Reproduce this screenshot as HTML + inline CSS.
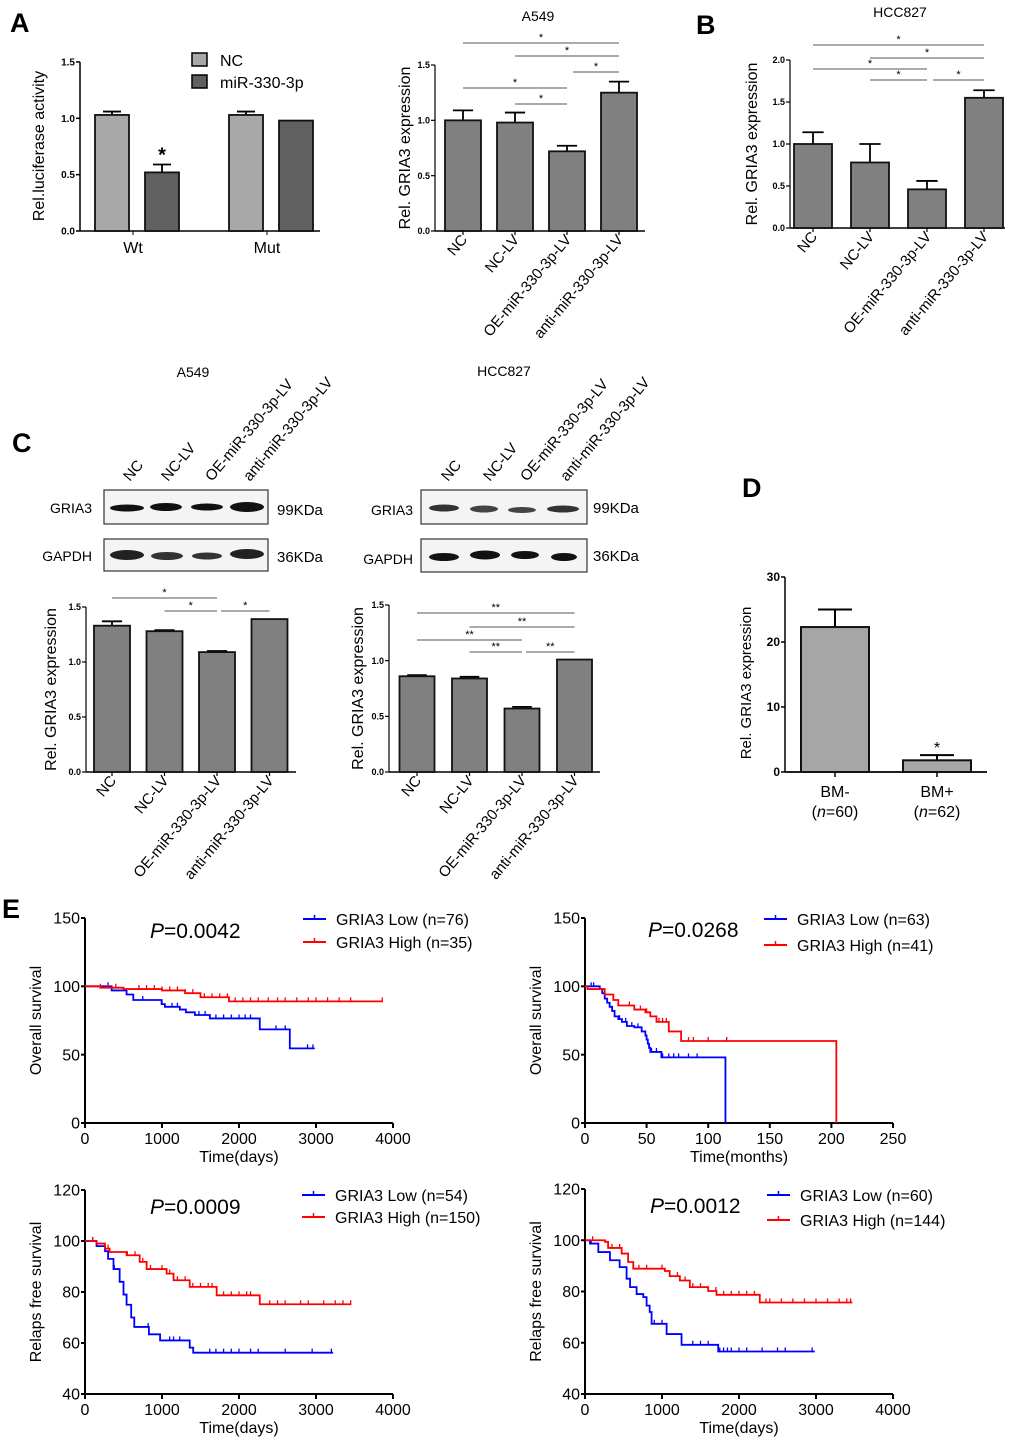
<!DOCTYPE html>
<html><head><meta charset="utf-8"><style>
html,body{margin:0;padding:0;background:#fff}
svg{display:block;font-family:"Liberation Sans",Arial,sans-serif}
</style></head><body>
<svg id="fig" width="1020" height="1444" viewBox="0 0 1020 1444" xmlns="http://www.w3.org/2000/svg">
<g font-weight="bold" font-size="27">
<text x="10" y="32">A</text>
<text x="696" y="34">B</text>
<text x="12" y="452">C</text>
<text x="742" y="497">D</text>
<text x="2" y="918">E</text>
</g>
<g font-size="16">
<rect x="192" y="53" width="15" height="13" fill="#a8a8a8" stroke="#000" stroke-width="1.5"/>
<text x="220" y="66">NC</text>
<rect x="192" y="75" width="15" height="13" fill="#606060" stroke="#000" stroke-width="1.5"/>
<text x="220" y="88">miR-330-3p</text>
</g>
<g font-size="14" text-anchor="middle">
<text x="538" y="21">A549</text>
<text x="900" y="17">HCC827</text>
<text x="193" y="377">A549</text>
<text x="504" y="376">HCC827</text>
</g>
<g>
<rect x="104" y="490" width="164" height="34" fill="#f4f4f4" stroke="#333" stroke-width="1.2"/>
<rect x="104" y="539" width="164" height="32" fill="#f4f4f4" stroke="#333" stroke-width="1.2"/>
<g fill="#111">
<ellipse cx="127" cy="508" rx="17" ry="3.5"/><ellipse cx="166" cy="507" rx="16" ry="4"/><ellipse cx="207" cy="507" rx="16" ry="3.5"/><ellipse cx="247" cy="507" rx="17" ry="5"/>
<ellipse cx="127" cy="555" rx="17" ry="5" fill="#222"/><ellipse cx="167" cy="556" rx="16" ry="4" fill="#333"/><ellipse cx="207" cy="556" rx="15" ry="3.5" fill="#333"/><ellipse cx="247" cy="554" rx="17" ry="5" fill="#222"/>
</g>
<text x="92" y="513" font-size="14" text-anchor="end">GRIA3</text>
<text x="92" y="561" font-size="14" text-anchor="end">GAPDH</text>
<text x="277" y="515" font-size="15">99KDa</text>
<text x="277" y="562" font-size="15">36KDa</text>
<g font-size="15">
<text transform="translate(130,482) rotate(-50)">NC</text>
<text transform="translate(168,482) rotate(-50)">NC-LV</text>
<text transform="translate(212,482) rotate(-50)">OE-miR-330-3p-LV</text>
<text transform="translate(250,482) rotate(-50)">anti-miR-330-3p-LV</text>
</g>
</g>
<g>
<rect x="421" y="490" width="166" height="34" fill="#f4f4f4" stroke="#333" stroke-width="1.2"/>
<rect x="421" y="539" width="166" height="33" fill="#f4f4f4" stroke="#333" stroke-width="1.2"/>
<g fill="#222">
<ellipse cx="444" cy="508" rx="15" ry="3.5" fill="#333"/><ellipse cx="484" cy="509" rx="14" ry="3.5" fill="#444"/><ellipse cx="522" cy="510" rx="14" ry="3" fill="#444"/><ellipse cx="563" cy="509" rx="16" ry="3.5" fill="#333"/>
<ellipse cx="444" cy="557" rx="15" ry="4" fill="#111"/><ellipse cx="485" cy="555" rx="15" ry="4.5" fill="#111"/><ellipse cx="525" cy="555" rx="14" ry="4" fill="#111"/><ellipse cx="564" cy="557" rx="13" ry="4" fill="#111"/>
</g>
<text x="413" y="515" font-size="14" text-anchor="end">GRIA3</text>
<text x="413" y="564" font-size="14" text-anchor="end">GAPDH</text>
<text x="593" y="513" font-size="15">99KDa</text>
<text x="593" y="561" font-size="15">36KDa</text>
<g font-size="15">
<text transform="translate(448,482) rotate(-50)">NC</text>
<text transform="translate(490,482) rotate(-50)">NC-LV</text>
<text transform="translate(527,482) rotate(-50)">OE-miR-330-3p-LV</text>
<text transform="translate(567,482) rotate(-50)">anti-miR-330-3p-LV</text>
</g>
</g>
<g id="charts"></g>
</svg>
<script>
// ---------- Data ----------
const catsLV = ["NC","NC-LV","OE-miR-330-3p-LV","anti-miR-330-3p-LV"];
const aGroups = ["Wt","Mut"];
const aNC = [1.03, 1.03];
const aNCerr = [0.03, 0.03];
const aMiR = [0.52, 0.98];
const aMiRerr = [0.07, 0.005];
const aTicks = [0, 0.5, 1.0, 1.5];

const a549Vals = [1.0, 0.98, 0.72, 1.25];
const a549Err = [0.09, 0.09, 0.05, 0.1];
const a549Ticks = [0, 0.5, 1.0, 1.5];

const hccVals = [1.0, 0.78, 0.46, 1.55];
const hccErr = [0.14, 0.22, 0.1, 0.09];
const hccTicks = [0, 0.5, 1.0, 1.5, 2.0];

const cA549Vals = [1.33, 1.28, 1.09, 1.39];
const cA549Err = [0.04, 0.01, 0.01, 0.0];
const cHccVals = [0.86, 0.84, 0.57, 1.01];
const cHccErr = [0.01, 0.015, 0.015, 0.0];
const cTicks = [0, 0.5, 1.0, 1.5];

const dCats = ["BM-","BM+"];
const dN = ["60","62"];
const dVals = [22.3, 1.8];
const dErr = [2.7, 0.8];
const dTicks = [0, 10, 20, 30];

const e1Low = [[0,100],[346,97],[540,94],[627,90],[995,87],[1038,85],[1232,83],[1310,81],[1427,79],[1622,76.5],[2270,68.5],[2660,54.6]];
const e1LowEnd = 2984;
const e1High = [[0,100],[200,99],[500,98],[1000,97],[1300,95],[1500,92],[1870,89]];
const e1HighEnd = 3870;
const e1LowCens = [300,750,1000,1130,1200,1480,1560,1700,1800,1900,2000,2080,2150,2480,2600,2890,2960];
const e1HighCens = [200,300,400,700,800,900,1000,1100,1200,1300,1400,1550,1650,1750,1850,1950,2050,2150,2250,2380,2500,2600,2750,2900,3000,3150,3300,3450,3860];
const e1Ticks = [0,50,100,150];
const e1XTicks = [0,1000,2000,3000,4000];

const e2Low = [[0,100],[12,98],[14,95],[16,91],[18,88],[20,85],[22,82],[24,78],[27,76],[30,74],[34,71],[40,70],[46,67],[49,64],[50,61],[51,58],[52,55],[53,52],[62,48],[114,0]];
const e2LowEnd = 114;
const e2High = [[0,100],[2,98],[16,94],[23,90],[27,86],[40,83],[49,81],[53,78],[58,74],[68,67],[78,60],[204,0]];
const e2HighEnd = 204;
const e2LowCens = [5,7,28,33,38,43,54,58,63,68,72,76,84,91];
const e2HighCens = [36,40,45,50,60,63,66,84,88,100,115];
const e2XTicks = [0,50,100,150,200,250];

const e3Low = [[0,100],[150,98],[260,96],[300,93],[370,89],[450,84],[500,79],[540,75],[600,70],[640,66.3],[830,63.4],[975,61],[1360,58.2],[1405,56.2]];
const e3LowEnd = 3222;
const e3High = [[0,100],[150,99],[260,97],[320,95.7],[540,94.4],[710,91.8],[800,89],[1060,87.2],[1150,84.6],[1360,82],[1710,78.7],[2270,75.2]];
const e3HighEnd = 3459;
const e3LowCens = [100,380,820,1100,1150,1230,1620,1700,1800,1900,2000,2150,2250,2600,2950,3200];
const e3HighCens = [100,300,550,650,750,850,1000,1100,1200,1300,1400,1500,1600,1650,1800,1900,2000,2100,2150,2400,2500,2600,2800,2900,3100,3250,3350,3450];
const e3Ticks = [40,60,80,100,120];

const e4Low = [[0,100],[65,98.7],[173,95.4],[324,92.2],[450,89.5],[540,85],[585,81.7],[670,79],[757,77.8],[800,74.5],[840,72],[865,67.4],[1060,63.4],[1254,59.2],[1730,56.6]];
const e4LowEnd = 2984;
const e4High = [[0,100],[260,99.4],[300,97],[476,94.8],[560,91.5],[627,88.9],[1038,88],[1100,86],[1232,84.3],[1362,81.7],[1600,80.2],[1708,78.7],[2270,75.7]];
const e4HighEnd = 3472;
const e4LowCens = [80,900,1000,1400,1500,1600,1750,1800,1850,1900,2000,2100,2300,2500,2600,2950];
const e4HighCens = [100,350,450,700,800,1000,1100,1200,1300,1400,1500,1600,1700,1800,1900,2000,2100,2200,2350,2400,2550,2700,2850,3000,3150,3300,3400,3450];
const e4XTicks = [0,1000,2000,3000,4000];

// ---------- Helpers ----------
const NS = "http://www.w3.org/2000/svg";
const root = document.getElementById("charts");
function mk(tag, attrs, parent, name) {
  const el = document.createElementNS(NS, tag);
  for (const k in attrs) el.setAttribute(k, attrs[k]);
  
  
  (parent || root).appendChild(el);
  return el;
}
function txt(s, attrs, parent, name) { const t = mk("text", attrs, parent, name); t.textContent = s; return t; }

function axisY(g, x0, y0, y1, vmax, vmin, ticks, fs, fmt, w, fw) {
  const sy = v => y0 - (v - vmin) / (vmax - vmin) * (y0 - y1);
  mk("line", {x1:x0, y1:sy(vmin), x2:x0, y2:sy(vmax), stroke:"#000", "stroke-width":w||1.5}, g, "y-axis-line");
  ticks.forEach(t => {
    mk("line", {x1:x0-4, y1:sy(t), x2:x0, y2:sy(t), stroke:"#000", "stroke-width":w||1.5}, g, "y-tick");
    txt(fmt(t), {x:x0-5, y:sy(t)+fs*0.35, "font-size":fs, "text-anchor":"end", "font-weight":fw||"normal"}, g, "y-tick-label");
  });
  return sy;
}

function barChart(opt) {
  const g = mk("g", {}, root, opt.name);
  const sy = axisY(g, opt.x0, opt.y0, opt.y1, opt.max, 0, opt.ticks, opt.tfs, opt.fmt, 1.2, "bold");
  mk("line", {x1:opt.x0, y1:opt.y0, x2:opt.xEnd, y2:opt.y0, stroke:"#000", "stroke-width":1.5}, g, "x-axis-line");
  opt.vals.forEach((v, i) => {
    const cx = opt.x0 + opt.first + i * opt.step;
    const e = opt.err[i];
    if (e > 0.0001) {
      mk("line", {x1:cx, y1:sy(v), x2:cx, y2:sy(v+e), stroke:"#000", "stroke-width":1.8}, g, "error-bar");
      mk("line", {x1:cx-opt.bw*0.28, y1:sy(v+e), x2:cx+opt.bw*0.28, y2:sy(v+e), stroke:"#000", "stroke-width":1.8}, g, "error-cap");
    }
    mk("rect", {x:cx-opt.bw/2, y:sy(v), width:opt.bw, height:opt.y0-sy(v), fill:opt.color, stroke:"#111", "stroke-width":1.8}, g, "bar-" + opt.cats[i].toLowerCase());
    mk("line", {x1:cx, y1:opt.y0, x2:cx, y2:opt.y0+4, stroke:"#000", "stroke-width":1.2}, g, "x-tick");
    txt(opt.cats[i], {transform:`translate(${cx+5},${opt.y0+9}) rotate(-50)`, "font-size":opt.lfs, "text-anchor":"end"}, g, "x-tick-label");
  });
  txt("Rel. GRIA3 expression", {transform:`translate(${opt.ylx},${(opt.y0+opt.y1)/2}) rotate(-90)`, "font-size":opt.yfs, "text-anchor":"middle"}, g, "y-axis-title");
  (opt.sig||[]).forEach(s => {
    const xa = opt.x0 + opt.first + s[0]*opt.step - (s[3]||0), xb = opt.x0 + opt.first + s[1]*opt.step + (s[4]||0);
    mk("line", {x1:xa, y1:s[2], x2:xb, y2:s[2], stroke:"#777", "stroke-width":1.2}, g, "significance-line");
    txt(opt.star, {x:(xa+xb)/2, y:s[2]-2, "font-size":11, "text-anchor":"middle"}, g, "significance-star");
  });
  return g;
}
const f1 = t => t.toFixed(1);

(function(){
  const g = mk("g", {}, root, "chart-a-luciferase");
  const x0 = 80, y0 = 231, y1 = 62;
  const sy = axisY(g, x0, y0, y1, 1.5, 0, aTicks, 10, f1, 1.5, "bold");
  mk("line", {x1:x0, y1:y0, x2:320, y2:y0, stroke:"#000", "stroke-width":1.5}, g, "x-axis-line");
  const centers = [137, 271];
  aGroups.forEach((grp, i) => {
    const c = centers[i];
    [[aNC[i], aNCerr[i], c-25, "#a8a8a8"], [aMiR[i], aMiRerr[i], c+25, "#606060"]].forEach(([v,e,cx,col]) => {
      if (e > 0.01) {
        mk("line", {x1:cx, y1:sy(v), x2:cx, y2:sy(v+e), stroke:"#000", "stroke-width":1.8}, g, "error-bar");
        mk("line", {x1:cx-9, y1:sy(v+e), x2:cx+9, y2:sy(v+e), stroke:"#000", "stroke-width":1.8}, g, "error-cap");
      }
      mk("rect", {x:cx-17, y:sy(v), width:34, height:y0-sy(v), fill:col, stroke:"#111", "stroke-width":1.8}, g, "bar-" + grp.toLowerCase());
    });
    mk("line", {x1:c-4, y1:y0, x2:c-4, y2:y0+4, stroke:"#000"}, g, "x-tick");
    txt(grp, {x:c-4, y:253, "font-size":16, "text-anchor":"middle"}, g, "x-tick-label");
  });
  txt("*", {x:162, y:sy(aMiR[0]+aMiRerr[0])-3, "font-size":20, "font-weight":"bold", "text-anchor":"middle"}, g, "significance-star");
  txt("Rel.luciferase activity", {transform:`translate(44,146) rotate(-90)`, "font-size":16, "text-anchor":"middle"}, g, "y-axis-title");
})();

barChart({name:"chart-a549-qpcr", x0:435, y0:231, y1:65, max:1.5, ticks:a549Ticks, tfs:9, fmt:f1, xEnd:645,
  vals:a549Vals, err:a549Err, cats:catsLV, first:28, step:52, bw:36, color:"#808080", lfs:15, ylx:410, yfs:16, star:"*",
  sig:[[0,3,43],[1,3,56],[2,3,72,-6,0],[0,2,88],[1,2,104]]});
barChart({name:"chart-hcc827-qpcr", x0:790, y0:228, y1:60, max:2.0, ticks:hccTicks, tfs:9, fmt:f1, xEnd:1005,
  vals:hccVals, err:hccErr, cats:catsLV, first:23, step:57, bw:38, color:"#808080", lfs:15, ylx:757, yfs:16, star:"*",
  sig:[[0,3,45],[1,3,58],[0,2,69],[1,2,80],[2,3,80,-6,0]]});
barChart({name:"chart-c-a549", x0:86, y0:772, y1:607, max:1.5, ticks:cTicks, tfs:9, fmt:f1, xEnd:296,
  vals:cA549Vals, err:cA549Err, cats:catsLV, first:26, step:52.5, bw:36, color:"#808080", lfs:15, ylx:56, yfs:16, star:"*",
  sig:[[0,2,598],[1,2,611],[2,3,611,-4,0]]});
barChart({name:"chart-c-hcc827", x0:389, y0:772, y1:605, max:1.5, ticks:cTicks, tfs:9, fmt:f1, xEnd:600,
  vals:cHccVals, err:cHccErr, cats:catsLV, first:28, step:52.5, bw:35, color:"#808080", lfs:15, ylx:363, yfs:16, star:"**",
  sig:[[0,3,613],[1,3,627],[0,2,640],[1,2,652],[2,3,652,-4,0]]});

(function(){
  const g = mk("g", {}, root, "chart-d-bm");
  const x0 = 785, y0 = 772, y1 = 577;
  const sy = axisY(g, x0, y0, y1, 30, 0, dTicks, 12, t => String(t), 1.5, "bold");
  mk("line", {x1:x0, y1:y0, x2:987, y2:y0, stroke:"#000", "stroke-width":1.8}, g, "x-axis-line");
  dVals.forEach((v, i) => {
    const cx = 835 + i*102;
    const e = dErr[i];
    mk("line", {x1:cx, y1:sy(v), x2:cx, y2:sy(v+e), stroke:"#000", "stroke-width":2}, g, "error-bar");
    mk("line", {x1:cx-17, y1:sy(v+e), x2:cx+17, y2:sy(v+e), stroke:"#000", "stroke-width":2}, g, "error-cap");
    mk("rect", {x:cx-34, y:sy(v), width:68, height:y0-sy(v), fill:"#a6a6a6", stroke:"#111", "stroke-width":2}, g, "bar-" + dCats[i]);
    mk("line", {x1:cx, y1:y0, x2:cx, y2:y0+5, stroke:"#000", "stroke-width":1.5}, g, "x-tick");
    txt(dCats[i], {x:cx, y:797, "font-size":16, "text-anchor":"middle"}, g, "x-tick-label");
    const t = txt("(", {x:cx, y:817, "font-size":16, "text-anchor":"middle"}, g, "x-tick-n");
    const ts = document.createElementNS(NS,"tspan"); ts.setAttribute("font-style","italic"); ts.textContent="n"; t.appendChild(ts);
    t.appendChild(document.createTextNode("=" + dN[i] + ")"));
  });
  txt("*", {x:937, y:sy(dVals[1]+dErr[1])-2, "font-size":16, "text-anchor":"middle"}, g, "significance-star");
  txt("Rel. GRIA3 expression", {transform:`translate(751,683) rotate(-90)`, "font-size":15, "text-anchor":"middle"}, g, "y-axis-title");
})();

function km(opt) {
  const g = mk("g", {}, root, opt.name);
  const sx = t => opt.x0 + t / opt.xmax * (opt.x1 - opt.x0);
  const sy = axisY(g, opt.x0, opt.y0, opt.y1, opt.ymax, opt.ymin, opt.yticks, 16, t => String(t), 2);
  mk("line", {x1:opt.x0, y1:opt.y0, x2:opt.x1, y2:opt.y0, stroke:"#000", "stroke-width":2}, g, "x-axis-line");
  opt.xticks.forEach(t => {
    mk("line", {x1:sx(t), y1:opt.y0, x2:sx(t), y2:opt.y0+5, stroke:"#000", "stroke-width":2}, g, "x-tick");
    txt(String(t), {x:sx(t), y:opt.y0+21, "font-size":16, "text-anchor":"middle"}, g, "x-tick-label");
  });
  txt(opt.xlabel, {x:(opt.x0+opt.x1)/2, y:opt.y0+39, "font-size":16, "text-anchor":"middle"}, g, "x-axis-title");
  txt(opt.ylabel, {transform:`translate(${opt.x0-44},${(opt.y0+opt.y1)/2}) rotate(-90)`, "font-size":16, "text-anchor":"middle"}, g, "y-axis-title");
  const ptxt = txt("", {x:opt.px, y:opt.py, "font-size":21}, g, "p-value");
  const it = document.createElementNS(NS,"tspan"); it.setAttribute("font-style","italic"); it.textContent="P"; ptxt.appendChild(it);
  ptxt.appendChild(document.createTextNode("=" + opt.p));
  [[opt.low, opt.lowEnd, opt.lowC, "#0000ff", "GRIA3 Low (n=" + opt.nLow + ")", 0],
   [opt.high, opt.highEnd, opt.highC, "#ff0000", "GRIA3 High (n=" + opt.nHigh + ")", 1]].forEach(([pts, end, cens, col, lab, k]) => {
    let d = "M" + sx(pts[0][0]) + "," + sy(pts[0][1]);
    for (let i = 1; i < pts.length; i++) d += " H" + sx(pts[i][0]) + " V" + sy(pts[i][1]);
    d += " H" + sx(end);
    mk("path", {d, fill:"none", stroke:col, "stroke-width":1.8}, g, k ? "survival-curve-high" : "survival-curve-low");
    const valAt = t => { let v = pts[0][1]; pts.forEach(p => { if (p[0] <= t) v = p[1]; }); return v; };
    cens.forEach(t => {
      if (t > end) return;
      mk("line", {x1:sx(t), y1:sy(valAt(t)), x2:sx(t), y2:sy(valAt(t))-4, stroke:col, "stroke-width":1.3}, g, "censor-tick");
    });
    const ly = opt.ly + k * opt.ldy;
    mk("line", {x1:opt.lx, y1:ly, x2:opt.lx+23, y2:ly, stroke:col, "stroke-width":2}, g, "legend-line");
    mk("line", {x1:opt.lx+11.5, y1:ly, x2:opt.lx+11.5, y2:ly-4, stroke:col, "stroke-width":1.5}, g, "legend-tick");
    txt(lab, {x:opt.lx+33, y:ly+6, "font-size":16}, g, "legend-label");
  });
}
km({name:"km-overall-days", x0:85, x1:393, y0:1123, y1:918, ymin:0, ymax:150, yticks:e1Ticks, xmax:4000, xticks:e1XTicks,
  xlabel:"Time(days)", ylabel:"Overall survival", p:"0.0042", px:150, py:938,
  low:e1Low, lowEnd:e1LowEnd, lowC:e1LowCens, high:e1High, highEnd:e1HighEnd, highC:e1HighCens, nLow:76, nHigh:35, lx:303, ly:919, ldy:23});
km({name:"km-overall-months", x0:585, x1:893, y0:1123, y1:918, ymin:0, ymax:150, yticks:e1Ticks, xmax:250, xticks:e2XTicks,
  xlabel:"Time(months)", ylabel:"Overall survival", p:"0.0268", px:648, py:937,
  low:e2Low, lowEnd:e2LowEnd, lowC:e2LowCens, high:e2High, highEnd:e2HighEnd, highC:e2HighCens, nLow:63, nHigh:41, lx:764, ly:919, ldy:26});
km({name:"km-relapse-free-1", x0:85, x1:393, y0:1394, y1:1190, ymin:40, ymax:120, yticks:e3Ticks, xmax:4000, xticks:e1XTicks,
  xlabel:"Time(days)", ylabel:"Relaps free survival", p:"0.0009", px:150, py:1214,
  low:e3Low, lowEnd:e3LowEnd, lowC:e3LowCens, high:e3High, highEnd:e3HighEnd, highC:e3HighCens, nLow:54, nHigh:150, lx:302, ly:1195, ldy:22});
km({name:"km-relapse-free-2", x0:585, x1:893, y0:1394, y1:1189, ymin:40, ymax:120, yticks:e3Ticks, xmax:4000, xticks:e4XTicks,
  xlabel:"Time(days)", ylabel:"Relaps free survival", p:"0.0012", px:650, py:1213,
  low:e4Low, lowEnd:e4LowEnd, lowC:e4LowCens, high:e4High, highEnd:e4HighEnd, highC:e4HighCens, nLow:60, nHigh:144, lx:767, ly:1195, ldy:25});
</script>
</body></html>
